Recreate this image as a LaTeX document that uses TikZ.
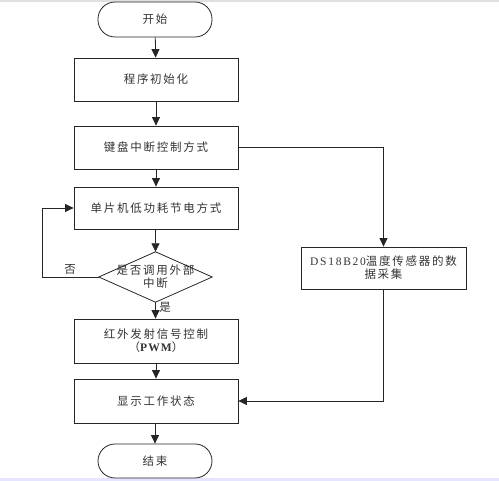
\documentclass[tikz,border=0pt]{standalone}
\usepackage{fontspec}
\setmainfont{Liberation Serif}
\newfontfamily\cjk[LetterSpace=15]{Noto Sans CJK SC}
\usetikzlibrary{arrows.meta}
\begin{document}
\begin{tikzpicture}[x=1pt,y=-1pt,
  every node/.style={font=\cjk\fontsize{11.5}{13}\selectfont, text=black!80, align=center, inner sep=0pt},
  proc/.style={draw=black!85, line width=0.8pt, minimum width=164pt, minimum height=43pt},
  term/.style={draw=black!85, line width=0.8pt, minimum width=114pt, minimum height=35pt, rounded corners=17pt},
  flow/.style={draw=black!85, line width=0.8pt, -{Triangle[width=8pt,length=8.5pt]}}]
\useasboundingbox (0,0) rectangle (499,481);
\fill[black!12] (0,0) rectangle (499,2);
\fill[blue!10] (0,478.5) rectangle (499,481);
\node[term] (start) at (155,19.5) {开始};
\node[proc] (b1) at (156,79.5) {程序初始化};
\node[proc] (b2) at (156,147.5) {键盘中断控制方式};
\node[proc, minimum height=42pt] (b3) at (156,208) {单片机低功耗节电方式};
\node[minimum width=113pt, minimum height=50pt] (dia) at (155.5,277) {是否调用外部\\中断};
\draw[black!85, line width=0.8pt] (dia.north) -- (dia.east) -- (dia.south) -- (dia.west) -- cycle;
\node[proc, minimum width=165pt, minimum height=42pt] (ds) at (383.5,268) {{\fontspec{Liberation Serif}[LetterSpace=15]DS18B20}温度传感器的数\\据采集};
\node[proc, minimum height=44pt] (b4) at (156,341) {红外发射信号控制\\（{\fontspec{Liberation Serif}[LetterSpace=10]\bfseries PWM}）};
\node[proc, minimum height=44pt] (b5) at (156,401) {显示工作状态};
\node[term, minimum height=34pt] (end) at (155,461) {结束};
\coordinate (loop) at (42,277);
\node (no) at (70,269) {否};
\node (yes) at (165,307) {是};
\draw[flow] (start) -- (b1);
\draw[flow] (b1) -- (b2);
\draw[flow] (b2) -- (b3);
\draw[flow] (b3.south -| dia.north) -- (dia.north);
\draw[flow] (dia.south) -- (dia.south |- b4.north);
\draw[flow] (b4.south -| b5.north) -- (b5.north);
\draw[flow] (b5.south -| end.north) -- (end.north);
\draw[flow] (b2.east) -| (ds.north);
\draw[flow] (dia.west) -- (loop) |- (b3.west);
\draw[flow] (ds.south) |- (b5.east);
\end{tikzpicture}
\end{document}
